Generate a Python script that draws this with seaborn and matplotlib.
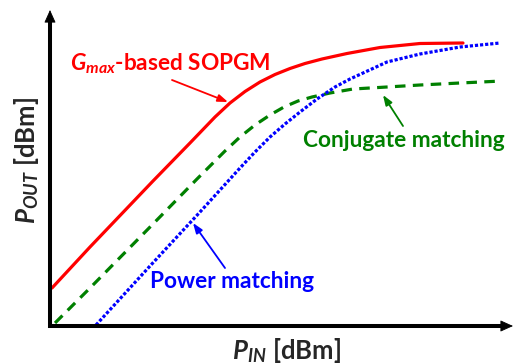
import matplotlib
matplotlib.use("Agg")
import matplotlib.pyplot as plt
import seaborn as sns
import pandas as pd

# Schematic P_OUT vs P_IN curves (arbitrary units, no ticks in the original)
pin_red = [2, 40, 103, 140, 165, 180, 195, 210, 225, 240, 255, 272, 297, 330, 370, 413]
pout_red = [38, 79, 145, 183, 209, 223, 234.5, 244, 251.5, 257.5, 262.5, 267, 272.5, 278.5, 282.5, 283]

pin_green = [5, 40, 103, 147, 175, 190, 205, 220, 234, 248, 262, 280, 303, 337, 370, 410, 452]
pout_green = [3, 38, 102, 147, 175, 189, 201, 211, 219, 225, 229, 233, 237, 239, 241, 243, 245]

pin_blue = [46, 100, 150, 190, 205, 220, 235, 250, 267, 285, 300, 337, 370, 410, 450]
pout_blue = [1, 60, 114, 158, 174, 189, 202, 214, 227, 239, 247, 264, 272, 279, 283]

series_names = ["Gmax-based SOPGM", "Conjugate matching", "Power matching"]

sns.set_style("white")
plt.rcParams["font.family"] = ["Lato", "DejaVu Sans"]
plt.rcParams["mathtext.fontset"] = "custom"
plt.rcParams["mathtext.rm"] = "Lato"
plt.rcParams["mathtext.it"] = "Lato:italic"
plt.rcParams["mathtext.bf"] = "Lato:bold"
plt.rcParams["mathtext.bfit"] = "Lato:italic:bold"

W, H = 513, 364
fig = plt.figure(figsize=(W / 100, H / 100), dpi=100)
ax = fig.add_axes([50 / W, 38 / H, 463 / W, 316 / H])

df_red = pd.DataFrame({"pin": pin_red, "pout": pout_red})
df_green = pd.DataFrame({"pin": pin_green, "pout": pout_green})
df_blue = pd.DataFrame({"pin": pin_blue, "pout": pout_blue})

sns.lineplot(data=df_red, x="pin", y="pout", ax=ax, color="#FF0000", lw=2.3,
             sort=False, estimator=None)
sns.lineplot(data=df_green, x="pin", y="pout", ax=ax, color="#008000", lw=2.3,
             sort=False, estimator=None)
ax.lines[-1].set_dashes((3.3, 2.3))
sns.lineplot(data=df_blue, x="pin", y="pout", ax=ax, color="#0000FF", lw=2.3,
             sort=False, estimator=None)
ax.lines[-1].set_dashes((1, 0.6))

ax.set_xlim(0, 463)
ax.set_ylim(0, 316)
ax.set_xticks([])
ax.set_yticks([])
ax.set_xlabel("")
ax.set_ylabel("")
for s in ["top", "right"]:
    ax.spines[s].set_visible(False)
for s in ["left", "bottom"]:
    ax.spines[s].set_linewidth(2.9)
    ax.spines[s].set_color("black")
    ax.spines[s].set_capstyle("butt")
ax.spines["left"].set_bounds(-2, 306)
ax.spines["bottom"].set_bounds(-2, 453)

# axis arrowheads
head = "-|>,head_length=0.8,head_width=0.36"
ax.annotate("", xy=(463, 0), xytext=(440, 0), xycoords="data",
            arrowprops=dict(arrowstyle=head, mutation_scale=10, color="k", lw=0.6,
                            shrinkA=0, shrinkB=0), annotation_clip=False)
ax.annotate("", xy=(0, 316), xytext=(0, 295), xycoords="data",
            arrowprops=dict(arrowstyle=head, mutation_scale=10, color="k", lw=0.6,
                            shrinkA=0, shrinkB=0), annotation_clip=False)

# annotation arrows
small = "-|>,head_length=0.6,head_width=0.22"
for tail, tip, col in [((122, 246), (178, 224), "#FF0000"),
                       ((353, 200), (333, 231), "#008000"),
                       ((175, 58), (143, 103), "#0000FF")]:
    ax.annotate("", xy=tip, xytext=tail,
                arrowprops=dict(arrowstyle=small, mutation_scale=10, color=col, lw=1.3,
                                shrinkA=0, shrinkB=0))

fs = 16.3
ax.text(20, 256, r"$\mathbfit{G}_{\mathbfit{max}}$-based SOPGM", color="#FF0000",
        fontsize=fs, fontweight="bold", ha="left", va="baseline")
ax.text(253, 179, series_names[1], color="#008000", fontsize=fs, fontweight="bold",
        ha="left", va="baseline")
ax.text(100, 38, series_names[2], color="#0000FF", fontsize=fs, fontweight="bold",
        ha="left", va="baseline")

fl = 18.5
fig.text(232 / W, (H - 359) / H, r"$\mathbfit{P}_{\mathbfit{IN}}$ [dBm]", fontsize=fl,
         fontweight="bold", ha="left", va="baseline")
fig.text(35 / W, (H - 224) / H, r"$\mathbfit{P}_{\mathbfit{OUT}}$ [dBm]", fontsize=fl,
         fontweight="bold", ha="left", va="baseline", rotation=90, rotation_mode="anchor")

fig.savefig("out.png", dpi=100)
